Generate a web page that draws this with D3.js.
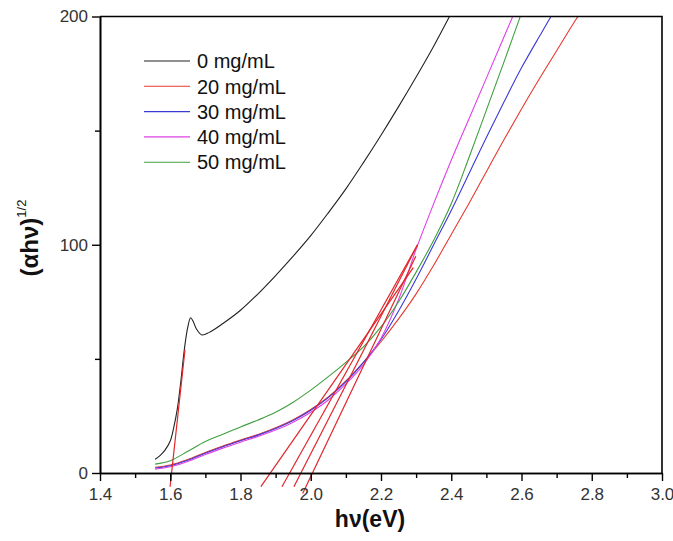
<!DOCTYPE html>
<html>
<head>
<meta charset="utf-8">
<script src="https://cdn.jsdelivr.net/npm/d3@7"></script>
<style>
  body { margin: 0; background: #fff; }
  svg { display: block; font-family: Arial, "Liberation Sans", sans-serif; }
</style>
</head>
<body>
<div id="main"></div>
<script>
// photon energy grids (eV)
const energy0 = [1.557, 1.57, 1.585, 1.60, 1.61, 1.62, 1.63, 1.64, 1.65, 1.658, 1.665, 1.675, 1.69, 1.71, 1.75, 1.80, 1.85, 1.90, 1.95, 2.0, 2.05, 2.1, 2.15, 2.2, 2.25, 2.3, 2.35, 2.40];
const energy = [1.557, 1.60, 1.65, 1.70, 1.75, 1.80, 1.85, 1.90, 1.95, 2.00, 2.05, 2.10, 2.15, 2.20, 2.25, 2.30, 2.35, 2.40, 2.45, 2.50, 2.55, 2.60, 2.65, 2.70, 2.75, 2.80];

// (ahv)^1/2 for each concentration
const abs0 = [6, 7.5, 10, 14, 20, 28, 40, 54, 64, 68, 66.5, 63, 60.5, 61.5, 65.5, 71.3, 78.5, 86.5, 95, 104, 114, 124.5, 136, 148, 160.5, 173.5, 187, 201.5];
const abs20 = [2.5, 3.5, 5.9, 9, 11.8, 14.4, 16.9, 19.8, 23.3, 27.8, 33.3, 40.3, 48.5, 57.5, 67.5, 78.5, 91, 104.5, 118, 132, 146, 159.5, 172.5, 185, 197.5, 209];
const abs30 = [2.2, 3.2, 5.6, 8.7, 11.5, 14.1, 16.6, 19.5, 23, 27.5, 33, 40, 48.5, 58.5, 71, 85, 100, 115, 131, 147, 162.5, 177.5, 191, 204, 215, 225];
const abs40 = [1.7, 2.7, 5.0, 8.1, 10.9, 13.5, 16.0, 18.8, 22.2, 26.6, 32, 39, 47.5, 59, 76, 98, 118, 137, 155, 173, 191, 209, 227, 245, 262, 279];
const abs50 = [3.9, 5.4, 9.5, 13.8, 17, 20.2, 23.2, 26.6, 31, 36.3, 42.2, 48.5, 55.3, 64, 75, 88, 102, 118, 138, 159, 180, 201.5, 222, 242, 262, 282];

// linear fits (start/end points in data units)
const fitX = [[1.5995, 1.642], [1.858, 2.292], [1.918, 2.304], [1.952, 2.304], [1.977, 2.299]];
const fitY = [[-6, 54], [-6, 90], [-6, 100], [-6, 100], [-9, 95]];

const labels = ["0 mg/mL", "20 mg/mL", "30 mg/mL", "40 mg/mL", "50 mg/mL"];
const colors = ["#222222", "#e8392f", "#3a3ad6", "#e040e6", "#3f9f3f"];

const xTicks = [1.4, 1.6, 1.8, 2.0, 2.2, 2.4, 2.6, 2.8, 3.0];
const xMinor = [1.5, 1.7, 1.9, 2.1, 2.3, 2.5, 2.7, 2.9];
const yTicks = [0, 100, 200];
const yMinor = [50, 150];

const width = 673;
const height = 541;
const margin = { left: 100, right: 11, top: 16.5, bottom: 68 };

const x = d3.scaleLinear().domain([1.4, 3.0]).range([margin.left, width - margin.right]);
const y = d3.scaleLinear().domain([0, 200]).range([height - margin.bottom, margin.top]);

const svg = d3.select("#main")
  .append("svg")
  .attr("width", width)
  .attr("height", height);

svg.append("clipPath")
  .attr("id", "plot")
  .append("rect")
  .attr("x", x(1.4))
  .attr("y", y(200))
  .attr("width", x(3.0) - x(1.4))
  .attr("height", y(0) - y(200));

const line = d3.line()
  .x(d => x(d[0]))
  .y(d => y(d[1]))
  .curve(d3.curveCatmullRom.alpha(0.5));

const series = [
  [energy0, abs0],
  [energy, abs20],
  [energy, abs30],
  [energy, abs40],
  [energy, abs50]
];

svg.append("g")
  .attr("clip-path", "url(#plot)")
  .selectAll("path")
  .data(series)
  .enter()
  .append("path")
  .attr("d", d => line(d[0].map((e, i) => [e, d[1][i]])))
  .attr("fill", "none")
  .attr("stroke", (d, i) => colors[i])
  .attr("stroke-width", 1.1);

// tangent lines
svg.append("g")
  .selectAll("line")
  .data(fitX)
  .enter()
  .append("line")
  .attr("x1", d => x(d[0]))
  .attr("x2", d => x(d[1]))
  .attr("y1", (d, i) => y(fitY[i][0]))
  .attr("y2", (d, i) => y(fitY[i][1]))
  .attr("stroke", "#e0262a")
  .attr("stroke-width", 1.2);

// axes
const xAxis = d3.axisBottom(x).tickValues(xTicks).tickFormat(d3.format(".1f")).tickSize(8).tickSizeOuter(0);
const xAxisMinor = d3.axisBottom(x).tickValues(xMinor).tickFormat("").tickSize(5).tickSizeOuter(0);
const yAxis = d3.axisLeft(y).tickValues(yTicks).tickSize(8).tickSizeOuter(0);
const yAxisMinor = d3.axisLeft(y).tickValues(yMinor).tickFormat("").tickSize(5).tickSizeOuter(0);

const gx = svg.append("g").attr("transform", "translate(0," + y(0) + ")").call(xAxis);
svg.append("g").attr("transform", "translate(0," + y(0) + ")").call(xAxisMinor);
const gy = svg.append("g").attr("transform", "translate(" + x(1.4) + ",0)").call(yAxis);
svg.append("g").attr("transform", "translate(" + x(1.4) + ",0)").call(yAxisMinor);

svg.selectAll(".domain").attr("stroke", "#000").attr("stroke-width", 1.6);
svg.selectAll(".tick line").attr("stroke", "#000").attr("stroke-width", 1.4);
gx.selectAll("text").attr("font-size", 17).attr("fill", "#333").attr("dy", "0.95em").attr("font-family", "Arial, 'Liberation Sans', sans-serif");
gy.selectAll("text").attr("font-size", 17).attr("fill", "#333").attr("x", -12).attr("font-family", "Arial, 'Liberation Sans', sans-serif");

// top and right frame
svg.append("path")
  .attr("d", "M" + x(1.4) + "," + y(200) + "H" + x(3.0) + "V" + y(0))
  .attr("fill", "none")
  .attr("stroke", "#000")
  .attr("stroke-width", 1.6);

// legend
const legend = svg.append("g").attr("transform", "translate(144,61)");
legend.selectAll("line")
  .data(labels)
  .enter()
  .append("line")
  .attr("x1", 0)
  .attr("x2", 46)
  .attr("y1", (d, i) => i * 25.3)
  .attr("y2", (d, i) => i * 25.3)
  .attr("stroke", (d, i) => colors[i])
  .attr("stroke-width", 1.1);
legend.selectAll("text")
  .data(labels)
  .enter()
  .append("text")
  .attr("x", 53)
  .attr("y", (d, i) => i * 25.3)
  .attr("dy", "0.36em")
  .attr("font-size", 20)
  .attr("fill", "#111")
  .text(d => d);

// axis titles
svg.append("text")
  .attr("x", 370)
  .attr("y", 527)
  .attr("text-anchor", "middle")
  .attr("font-size", 23)
  .attr("font-weight", "bold")
  .attr("fill", "#111")
  .text("hν(eV)");

const yTitle = svg.append("text")
  .attr("transform", "translate(38,238) rotate(-90)")
  .attr("text-anchor", "middle")
  .attr("fill", "#111");
yTitle.append("tspan")
  .attr("font-size", 24)
  .attr("font-weight", "bold")
  .text("(αhν)");
yTitle.append("tspan")
  .attr("font-size", 13)
  .attr("dy", -12)
  .text("1/2");
</script>
</body>
</html>
